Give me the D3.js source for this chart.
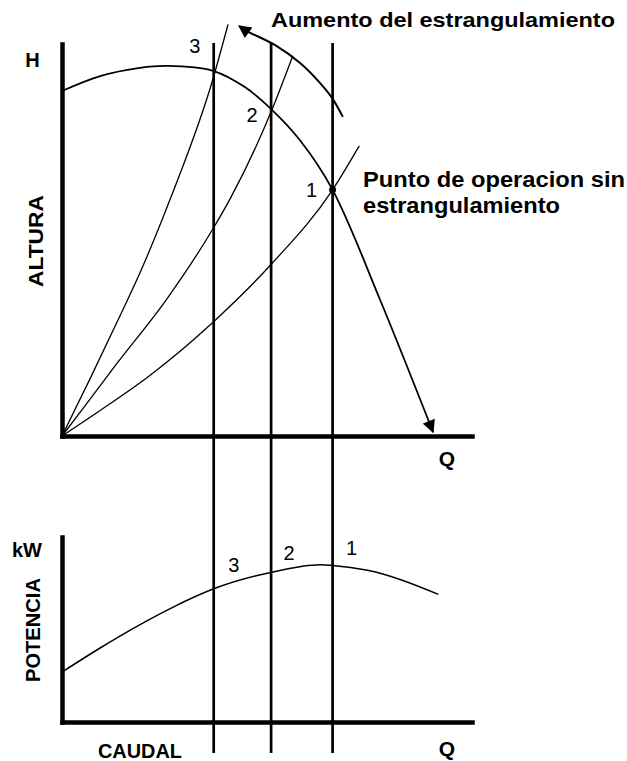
<html>
    <head>
        <script src="https://d3js.org/d3.v7.min.js"></script>
        <style>
            body { margin: 0; background: #fff; }
            text { font-family: "Liberation Sans", Arial, sans-serif; fill: #000; }
        </style>
    </head>
    <body>
        <script>
// pump curve (Q, H) and system curves for 3 throttle settings
var headCurve = [[0,88],[9.3,91.8],[19,93.9],[25.6,94.4],[37,93.1],[44.6,89],[51.2,83.2],[58,75.5],[66,62.8],[77.6,34.7],[90.5,1]];
var system1 = [[0,0],[9.3,6.5],[21.5,15.5],[36.9,29.1],[51.2,44],[66,62.8],[72.5,74]];
var system2 = [[0,0],[5.1,7],[13.4,18.5],[25.6,35],[36.9,53],[41,60.5],[51.2,83.2],[56.3,97]];
var system3 = [[0,0],[6.8,14.5],[13.4,29],[19.8,43.5],[26.3,60.2],[36.8,91],[40.5,105]];
// power curve (Q, kW)
var powerCurve = [[0,27],[9.3,40],[17.3,50.5],[27,62],[37,72],[51.2,81],[63,85],[66,84.6],[74.5,82],[91.8,69]];
// operating points 3, 2, 1
var opLabels = ["3", "2", "1"];
var opQ = [37, 51, 66];
var throttleArrow = [[68.5,81.4],[65.9,86.2],[62.9,90.1],[58,95.2],[52,99.7],[45.1,103.3],[43.2,104.6]];

var width = 627, height = 761;
var svg = d3.select("body").append("svg")
    .attr("width", width)
    .attr("height", height);

svg.append("defs").append("marker")
    .attr("id", "head")
    .attr("viewBox", "0 0 10 10")
    .attr("refX", 9).attr("refY", 5)
    .attr("markerWidth", 15).attr("markerHeight", 13)
    .attr("markerUnits", "userSpaceOnUse")
    .attr("orient", "auto")
    .append("path").attr("d", "M0,0L10,5L0,10Z").attr("fill", "#000");

var x = d3.scaleLinear().domain([0, 100]).range([62, 472]);
var y = d3.scaleLinear().domain([0, 100]).range([436, 44]);
var yP = d3.scaleLinear().domain([0, 100]).range([722, 537]);

var line = d3.line().x(d => x(d[0])).y(d => y(d[1])).curve(d3.curveMonotoneX);
var curvy = d3.line().x(d => x(d[0])).y(d => y(d[1])).curve(d3.curveCatmullRom);
var lineP = d3.line().x(d => x(d[0])).y(d => yP(d[1])).curve(d3.curveMonotoneX);

// vertical lines through operating points
svg.append("g").selectAll("line").data(opQ).enter()
    .append("line")
    .attr("x1", d => x(d)).attr("x2", d => x(d))
    .attr("y1", y(100) - 1).attr("y2", yP(0) + 31)
    .attr("stroke", "#000").attr("stroke-width", 2.7);

// system curves
svg.append("g").selectAll("path").data([system1, system2, system3]).enter()
    .append("path")
    .attr("d", line)
    .attr("fill", "none").attr("stroke", "#000").attr("stroke-width", 1.3);

// pump curve
svg.append("path").datum(headCurve)
    .attr("d", curvy)
    .attr("fill", "none").attr("stroke", "#000").attr("stroke-width", 1.8)
    .attr("marker-end", "url(#head)");

// throttling arrow
svg.append("path").datum(throttleArrow)
    .attr("d", curvy)
    .attr("fill", "none").attr("stroke", "#000").attr("stroke-width", 2)
    .attr("marker-end", "url(#head)");

// power curve
svg.append("path").datum(powerCurve)
    .attr("d", lineP)
    .attr("fill", "none").attr("stroke", "#000").attr("stroke-width", 1.5);

// operating point without throttling
svg.append("circle")
    .attr("cx", x(opQ[2])).attr("cy", y(62.8)).attr("r", 3.5).attr("fill", "#000");

// axes (no ticks)
var axisStyle = g => g.call(g => g.select(".domain").attr("stroke-width", 4.5).attr("stroke-linecap", "square"));
svg.append("g").attr("transform", "translate(62,0)")
    .call(d3.axisLeft(y).tickValues([]).tickSizeOuter(0)).call(axisStyle);
svg.append("g").attr("transform", "translate(0,436)")
    .call(d3.axisBottom(x).tickValues([]).tickSizeOuter(0)).call(axisStyle);
svg.append("g").attr("transform", "translate(62,0)")
    .call(d3.axisLeft(yP).tickValues([]).tickSizeOuter(0)).call(axisStyle);
svg.append("g").attr("transform", "translate(0,722)")
    .call(d3.axisBottom(x).tickValues([]).tickSizeOuter(0)).call(axisStyle);

// point numbers
var topOffsets = [[-19, 53], [-19, 122], [-21, 197]];
var botOffsets = [[20, 572], [18, 560], [19, 555]];
svg.append("g").selectAll("text").data(opLabels).enter()
    .append("text").text(d => d)
    .attr("x", (d, i) => x(opQ[i]) + topOffsets[i][0])
    .attr("y", (d, i) => topOffsets[i][1])
    .attr("text-anchor", "middle").attr("font-size", 20);
svg.append("g").selectAll("text").data(opLabels).enter()
    .append("text").text(d => d)
    .attr("x", (d, i) => x(opQ[i]) + botOffsets[i][0])
    .attr("y", (d, i) => botOffsets[i][1])
    .attr("text-anchor", "middle").attr("font-size", 20);

function label(t, px, py, size, opts) {
    opts = opts || {};
    var el = svg.append("text").text(t)
        .attr("x", px).attr("y", py)
        .attr("font-size", size).attr("font-weight", "bold")
        .attr("text-anchor", opts.anchor || "start");
    if (opts.len) el.attr("textLength", opts.len).attr("lengthAdjust", "spacingAndGlyphs");
    if (opts.rotate) el.attr("transform", "rotate(-90," + px + "," + py + ")");
    return el;
}

label("Aumento del estrangulamiento", 271, 27, 21, {len: 344});
label("Punto de operacion sin", 363, 187, 22, {len: 262});
label("estrangulamiento", 363, 213, 22, {len: 197});
label("H", 32.5, 67, 20, {anchor: "middle"});
label("ALTURA", 43, 241, 21, {anchor: "middle", rotate: true, len: 92});
label("Q", 447, 466, 21, {anchor: "middle"});
label("kW", 12, 557, 20);
label("POTENCIA", 40, 630, 20, {anchor: "middle", rotate: true, len: 104});
label("CAUDAL", 98, 758, 20, {len: 84});
label("Q", 447, 756, 21, {anchor: "middle"});
        </script>
    </body>
</html>
